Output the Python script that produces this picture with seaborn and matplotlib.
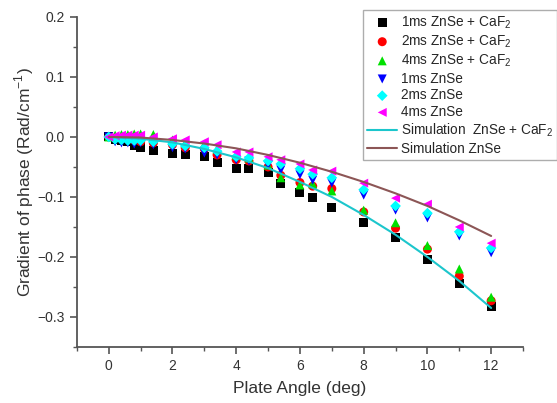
import pandas as pd
import matplotlib
matplotlib.use("Agg")
import matplotlib.pyplot as plt
from matplotlib.ticker import MultipleLocator
import seaborn as sns

# Angles de mesure (deg)
angle = [0, 0.2, 0.4, 0.6, 0.8, 1.0, 1.4, 2, 2.4, 3, 3.4, 4, 4.4, 5, 5.4, 6, 6.4, 7, 8, 9, 10, 11, 12]

# Gradient de phase mesuré (Rad/cm-1)
znse_caf2_1ms = [0, -0.004, -0.006, -0.008, -0.015, -0.018, -0.022, -0.028, -0.030, -0.032, -0.042, -0.052,
                 -0.052, -0.060, -0.078, -0.092, -0.101, -0.117, -0.142, -0.168, -0.204, -0.245, -0.283]
znse_caf2_2ms = [0, -0.002, -0.003, -0.004, -0.006, -0.008, -0.010, -0.013, -0.018, -0.020, -0.030, -0.038,
                 -0.040, -0.050, -0.064, -0.076, -0.082, -0.086, -0.125, -0.152, -0.187, -0.232, -0.273]
znse_caf2_4ms = [0, 0.003, 0.004, 0.004, 0.005, 0.005, 0.004, -0.005, -0.010, -0.012, -0.020, -0.030,
                 -0.035, -0.047, -0.068, -0.080, -0.078, -0.090, -0.122, -0.143, -0.181, -0.220, -0.267]
znse_1ms = [0, -0.008, -0.010, -0.010, -0.012, -0.010, -0.013, -0.018, -0.020, -0.027, -0.030, -0.038,
            -0.040, -0.047, -0.055, -0.063, -0.072, -0.077, -0.097, -0.122, -0.135, -0.165, -0.193]
znse_2ms = [0, -0.004, -0.005, -0.006, -0.006, -0.006, -0.008, -0.012, -0.015, -0.018, -0.024, -0.033,
            -0.035, -0.040, -0.045, -0.053, -0.062, -0.068, -0.088, -0.115, -0.127, -0.158, -0.185]
znse_4ms = [0, 0.002, 0.003, 0.003, 0.003, 0.003, 0.000, -0.003, -0.005, -0.008, -0.013, -0.025,
            -0.025, -0.033, -0.038, -0.045, -0.055, -0.057, -0.077, -0.102, -0.112, -0.150, -0.177]

# Courbes de simulation
sim_angle = [0, 1, 2, 3, 4, 5, 6, 7, 8, 9, 10, 11, 12]
sim_znse_caf2 = [0, -0.003, -0.009, -0.020, -0.034, -0.052, -0.075, -0.100, -0.130, -0.163, -0.200, -0.240, -0.285]
sim_znse = [0, -0.001, -0.005, -0.011, -0.019, -0.030, -0.043, -0.058, -0.075, -0.094, -0.115, -0.139, -0.165]

series = [
    ("1ms ZnSe + CaF$_2$", znse_caf2_1ms, "black", "s"),
    ("2ms ZnSe + CaF$_2$", znse_caf2_2ms, "#ff0000", "o"),
    ("4ms ZnSe + CaF$_2$", znse_caf2_4ms, "#00e000", "^"),
    ("1ms ZnSe", znse_1ms, "#0000ff", "v"),
    ("2ms ZnSe", znse_2ms, "#00ffff", "D"),
    ("4ms ZnSe", znse_4ms, "#ff00ff", "<"),
]

sns.set_style("ticks")
plt.rcParams['font.family'] = ['Liberation Sans', 'DejaVu Sans']
plt.rcParams['mathtext.fontset'] = 'custom'
plt.rcParams['mathtext.rm'] = 'Liberation Sans'

fig = plt.figure(figsize=(5.57, 4.03), dpi=100)
ax = fig.add_axes([0.138, 0.139, 0.801, 0.819])

for label, vals, color, marker in series:
    df = pd.DataFrame({"angle": angle, "grad": vals})
    size = 30 if marker == "D" else 42
    sns.scatterplot(data=df, x="angle", y="grad", ax=ax, color=color, marker=marker,
                    s=size, edgecolor="none", label=label, zorder=3)

sim = pd.DataFrame({"angle": sim_angle, "caf2": sim_znse_caf2, "znse": sim_znse})
sns.lineplot(data=sim, x="angle", y="caf2", ax=ax, color="#1cc6cc", lw=1.5,
             label="Simulation  ZnSe + CaF$_2$", zorder=4)
sns.lineplot(data=sim, x="angle", y="znse", ax=ax, color="#8c5656", lw=1.5,
             label="Simulation ZnSe", zorder=4)

ax.set_xlim(-1, 13)
ax.set_ylim(-0.35, 0.2)
ax.xaxis.set_major_locator(MultipleLocator(2))
ax.xaxis.set_minor_locator(MultipleLocator(1))
ax.yaxis.set_major_locator(MultipleLocator(0.1))
ax.yaxis.set_minor_locator(MultipleLocator(0.05))
ax.yaxis.set_major_formatter(plt.FuncFormatter(lambda v, p: f"{v:.1f}".replace("-", "\u2212")))

for side in ["top", "right"]:
    ax.spines[side].set_visible(False)
for side in ["left", "bottom"]:
    ax.spines[side].set_color("#555555")
    ax.spines[side].set_linewidth(1.3)
ax.tick_params(which="major", direction="out", length=5, width=1.2, color="#555555",
               labelsize=10, labelcolor="#333333")
ax.tick_params(which="minor", direction="out", length=3, width=1.0, color="#555555")

ax.set_xlabel("Plate Angle (deg)", fontsize=12.5, color="#333333", labelpad=6)
ax.set_ylabel("Gradient of phase (Rad/cm$^{-1}$)", fontsize=12.5, color="#333333", labelpad=1)

handles, labels = ax.get_legend_handles_labels()
ax.get_legend().remove()
leg = fig.legend(handles, labels, loc="upper left", bbox_to_anchor=(0.652, 0.975),
                 fontsize=9.8, frameon=True, fancybox=False, edgecolor="#999999",
                 handlelength=2.2, labelspacing=0.2, borderpad=0.3, handletextpad=0.3,
                 borderaxespad=0)
leg.get_frame().set_linewidth(1.0)

plt.savefig("out.png", dpi=100)
